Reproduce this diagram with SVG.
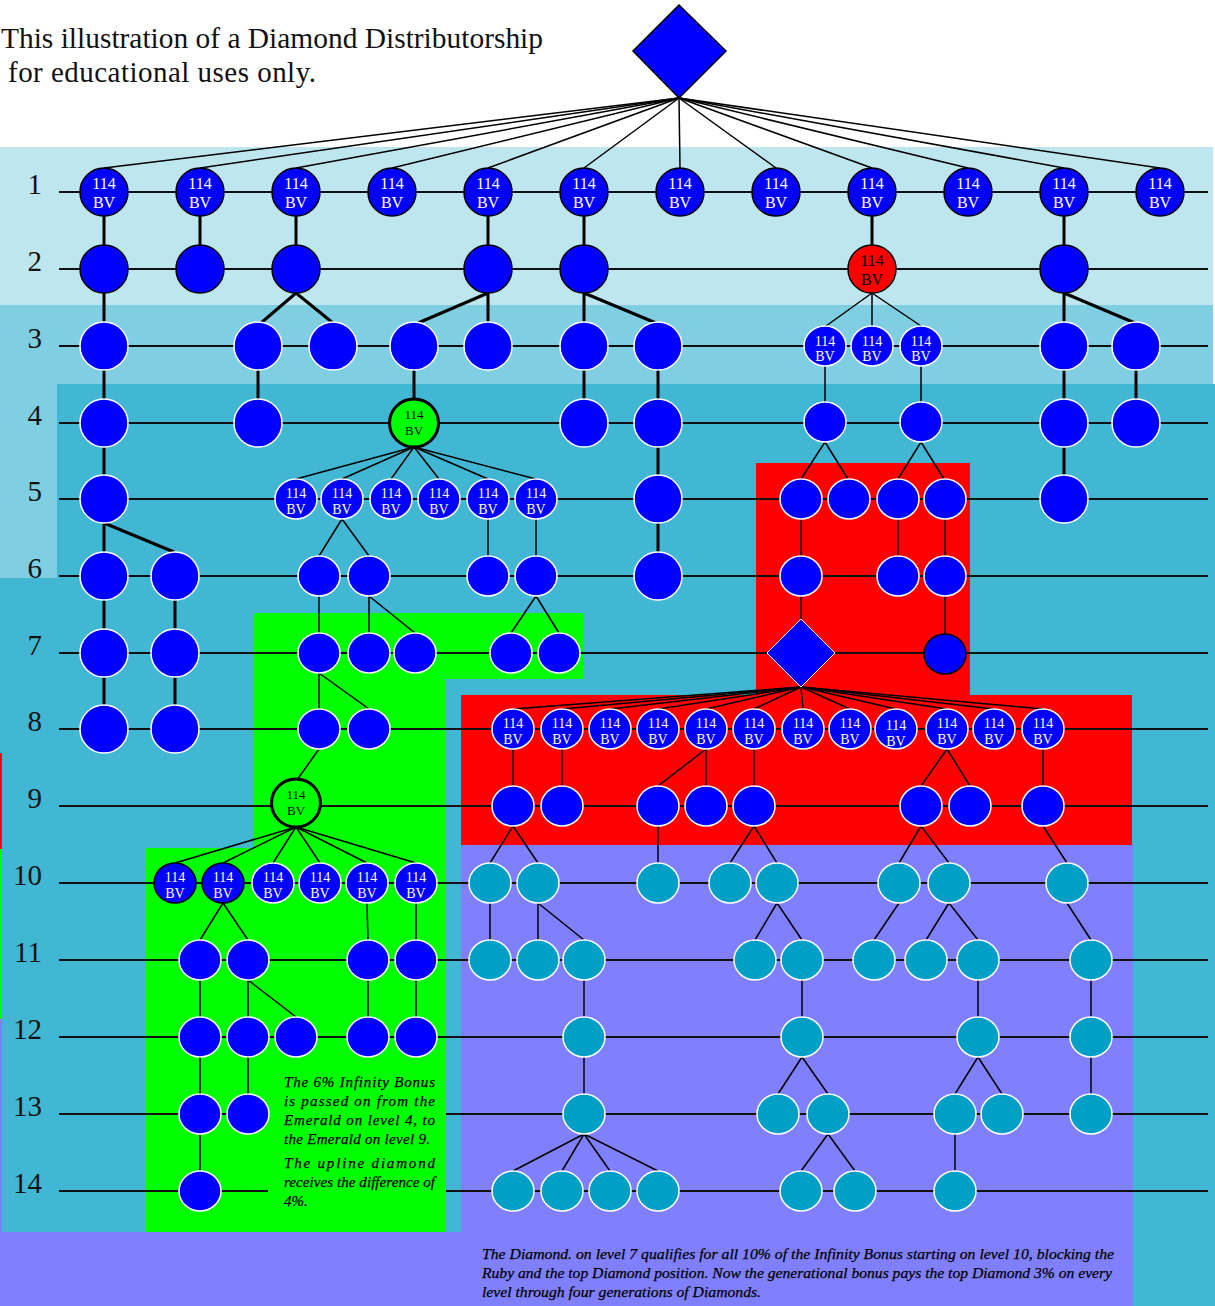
<svg xmlns="http://www.w3.org/2000/svg" width="1215" height="1306" viewBox="0 0 1215 1306">
<style>
.row{stroke:#111;stroke-width:2;fill:none}
.tk{stroke:#000;stroke-width:3;fill:none}
.tn{stroke:#000;stroke-width:1.5;fill:none}
.b{fill:#0000ff;stroke:#fff;stroke-width:1.5}
.bk{fill:#0000ff;stroke:#000;stroke-width:1.5}
.t{fill:#00a0c6;stroke:#fff;stroke-width:1.5}
.em{fill:#00ff00;stroke:#000;stroke-width:3}
.rd{fill:#ff0000;stroke:#000;stroke-width:1.5}
.lbl{font-family:"Liberation Serif",serif;font-size:29px;fill:#111;text-anchor:end}
.bv{font-family:"Liberation Serif",serif;text-anchor:middle;fill:#fff}
.s16{font-size:16px}
.s14{font-size:14px}
.s13{font-size:13px}
.dk{fill:#000}
.note{font-family:"Liberation Serif",serif;font-style:italic;font-size:15px;fill:#000;stroke:#000;stroke-width:0.25}
.title{font-family:"Liberation Serif",serif;font-size:29px;fill:#111}
</style>
<g id="background">
<rect x="0" y="0" width="1215" height="1306" fill="#ffffff"/>
<rect x="0" y="384" width="1215" height="922" fill="#41b7d4"/>
<rect x="0" y="753" width="2" height="96" fill="#ff0000"/>
<rect x="0" y="849" width="2" height="170" fill="#00ff00"/>
<rect x="0" y="1019" width="2" height="213" fill="#8080ff"/>
<rect x="0" y="1232" width="1133" height="74" fill="#8080ff"/>
<rect x="461" y="845" width="672" height="387" fill="#8080ff"/>
<rect x="0" y="147" width="1213" height="158" fill="#bee6ee"/>
<rect x="0" y="305" width="1213" height="79" fill="#80cee1"/>
<rect x="0" y="384" width="57" height="194" fill="#80cee1"/>
<polygon fill="#00ff00" points="254,613 584,613 584,679 445,679 445,1232 146,1232 146,848 254,848"/>
<polygon fill="#ff0000" points="756,463 970,463 970,695 1132,695 1132,845 461,845 461,695 756,695"/>
</g>
<g id="title">
<text class="title" x="1" y="48" textLength="542" lengthAdjust="spacingAndGlyphs">This illustration of a Diamond Distributorship</text>
<text class="title" x="8" y="82" textLength="308" lengthAdjust="spacing">for educational uses only.</text>
</g>
<g id="level-labels">
<text class="lbl" x="42" y="194">1</text>
<text class="lbl" x="42" y="271">2</text>
<text class="lbl" x="42" y="348">3</text>
<text class="lbl" x="42" y="425">4</text>
<text class="lbl" x="42" y="501">5</text>
<text class="lbl" x="42" y="578">6</text>
<text class="lbl" x="42" y="655">7</text>
<text class="lbl" x="42" y="731">8</text>
<text class="lbl" x="42" y="808">9</text>
<text class="lbl" x="42" y="885">10</text>
<text class="lbl" x="42" y="962">11</text>
<text class="lbl" x="42" y="1039">12</text>
<text class="lbl" x="42" y="1116">13</text>
<text class="lbl" x="42" y="1193">14</text>
</g>
<g id="level-lines">
<line class="row" x1="59" y1="192" x2="1208" y2="192"/>
<line class="row" x1="59" y1="269" x2="1208" y2="269"/>
<line class="row" x1="59" y1="346" x2="1208" y2="346"/>
<line class="row" x1="59" y1="423" x2="1208" y2="423"/>
<line class="row" x1="59" y1="499" x2="1208" y2="499"/>
<line class="row" x1="59" y1="576" x2="1208" y2="576"/>
<line class="row" x1="59" y1="653" x2="1208" y2="653"/>
<line class="row" x1="59" y1="729" x2="1208" y2="729"/>
<line class="row" x1="59" y1="806" x2="1208" y2="806"/>
<line class="row" x1="59" y1="883" x2="1208" y2="883"/>
<line class="row" x1="59" y1="960" x2="1208" y2="960"/>
<line class="row" x1="59" y1="1037" x2="1208" y2="1037"/>
<line class="row" x1="59" y1="1114" x2="248" y2="1114"/>
<line class="row" x1="446" y1="1114" x2="1208" y2="1114"/>
<line class="row" x1="59" y1="1191" x2="268" y2="1191"/>
<line class="row" x1="446" y1="1191" x2="1208" y2="1191"/>
</g>
<g id="connectors">
<g class="tn">
<line x1="679" y1="98" x2="104" y2="168"/><line x1="679" y1="98" x2="200" y2="168"/><line x1="679" y1="98" x2="296" y2="168"/><line x1="679" y1="98" x2="392" y2="168"/><line x1="679" y1="98" x2="488" y2="168"/><line x1="679" y1="98" x2="584" y2="168"/><line x1="679" y1="98" x2="680" y2="168"/><line x1="679" y1="98" x2="776" y2="168"/><line x1="679" y1="98" x2="872" y2="168"/><line x1="679" y1="98" x2="968" y2="168"/><line x1="679" y1="98" x2="1064" y2="168"/><line x1="679" y1="98" x2="1160" y2="168"/>
</g>
<g class="tk">
<line x1="104" y1="216" x2="104" y2="245"/><line x1="200" y1="216" x2="200" y2="245"/><line x1="296" y1="216" x2="296" y2="245"/><line x1="488" y1="216" x2="488" y2="245"/><line x1="584" y1="216" x2="584" y2="245"/><line x1="872" y1="216" x2="872" y2="245"/><line x1="1064" y1="216" x2="1064" y2="245"/>
<line x1="104" y1="293" x2="104" y2="322"/><line x1="296" y1="293" x2="261" y2="323"/><line x1="296" y1="293" x2="333" y2="323"/><line x1="488" y1="293" x2="418" y2="323"/><line x1="488" y1="293" x2="488" y2="322"/><line x1="584" y1="293" x2="584" y2="322"/><line x1="584" y1="293" x2="656" y2="323"/><line x1="1064" y1="293" x2="1064" y2="322"/><line x1="1064" y1="293" x2="1135" y2="323"/>
<line x1="104" y1="370" x2="104" y2="399"/><line x1="258" y1="370" x2="258" y2="399"/><line x1="414" y1="370" x2="414" y2="399"/><line x1="584" y1="370" x2="584" y2="399"/><line x1="658" y1="370" x2="658" y2="399"/><line x1="1064" y1="370" x2="1064" y2="399"/><line x1="1136" y1="370" x2="1136" y2="399"/>
<line x1="104" y1="447" x2="104" y2="475"/><line x1="658" y1="447" x2="658" y2="475"/><line x1="1064" y1="447" x2="1064" y2="475"/>
<line x1="104" y1="523" x2="104" y2="552"/><line x1="104" y1="523" x2="174" y2="552"/><line x1="658" y1="523" x2="658" y2="552"/>
<line x1="104" y1="600" x2="104" y2="629"/><line x1="175" y1="600" x2="175" y2="629"/>
<line x1="104" y1="677" x2="104" y2="705"/><line x1="175" y1="677" x2="175" y2="705"/>
</g>
<g class="tn">
<line x1="872" y1="293" x2="826" y2="326"/><line x1="872" y1="293" x2="872" y2="326"/><line x1="872" y1="293" x2="921" y2="326"/>
<line x1="825" y1="366" x2="825" y2="402"/><line x1="921" y1="366" x2="921" y2="402"/>
<line x1="414" y1="447" x2="296" y2="479"/><line x1="414" y1="447" x2="342" y2="479"/><line x1="414" y1="447" x2="391" y2="479"/><line x1="414" y1="447" x2="439" y2="479"/><line x1="414" y1="447" x2="488" y2="479"/><line x1="414" y1="447" x2="536" y2="479"/>
<line x1="825" y1="442" x2="801" y2="479"/><line x1="825" y1="442" x2="848" y2="479"/><line x1="921" y1="442" x2="898" y2="479"/><line x1="921" y1="442" x2="944" y2="479"/>
<line x1="342" y1="519" x2="319" y2="556"/><line x1="342" y1="519" x2="369" y2="556"/><line x1="488" y1="519" x2="488" y2="556"/><line x1="536" y1="519" x2="536" y2="556"/><line x1="801" y1="519" x2="801" y2="556"/><line x1="898" y1="519" x2="898" y2="556"/><line x1="945" y1="519" x2="945" y2="556"/>
<line x1="319" y1="596" x2="319" y2="633"/><line x1="369" y1="596" x2="369" y2="633"/><line x1="369" y1="596" x2="415" y2="633"/><line x1="536" y1="596" x2="511" y2="633"/><line x1="536" y1="596" x2="559" y2="633"/><line x1="801" y1="596" x2="801" y2="619"/><line x1="945" y1="596" x2="945" y2="634"/>
<line x1="319" y1="673" x2="319" y2="709"/><line x1="319" y1="673" x2="369" y2="709"/>
<line x1="801" y1="687" x2="513" y2="709"/><line x1="801" y1="687" x2="562" y2="709"/><line x1="801" y1="687" x2="610" y2="709"/><line x1="801" y1="687" x2="658" y2="709"/><line x1="801" y1="687" x2="706" y2="709"/><line x1="801" y1="687" x2="754" y2="709"/><line x1="801" y1="687" x2="803" y2="709"/><line x1="801" y1="687" x2="850" y2="709"/><line x1="801" y1="687" x2="896" y2="709"/><line x1="801" y1="687" x2="947" y2="709"/><line x1="801" y1="687" x2="994" y2="709"/><line x1="801" y1="687" x2="1043" y2="709"/>
<line x1="319" y1="749" x2="297" y2="780"/><line x1="513" y1="749" x2="513" y2="786"/><line x1="562" y1="749" x2="562" y2="786"/><line x1="706" y1="749" x2="658" y2="786"/><line x1="706" y1="749" x2="706" y2="786"/><line x1="754" y1="749" x2="754" y2="786"/><line x1="947" y1="749" x2="921" y2="786"/><line x1="947" y1="749" x2="970" y2="786"/><line x1="1043" y1="749" x2="1043" y2="786"/>
<line x1="296" y1="827" x2="175" y2="863"/><line x1="296" y1="827" x2="223" y2="863"/><line x1="296" y1="827" x2="273" y2="863"/><line x1="296" y1="827" x2="320" y2="863"/><line x1="296" y1="827" x2="367" y2="863"/><line x1="296" y1="827" x2="416" y2="863"/>
<line x1="513" y1="826" x2="490" y2="863"/><line x1="513" y1="826" x2="538" y2="863"/><line x1="658" y1="826" x2="658" y2="863"/><line x1="754" y1="826" x2="730" y2="863"/><line x1="754" y1="826" x2="777" y2="863"/><line x1="921" y1="826" x2="899" y2="863"/><line x1="921" y1="826" x2="949" y2="863"/><line x1="1043" y1="826" x2="1067" y2="863"/>
<line x1="223" y1="903" x2="200" y2="940"/><line x1="223" y1="903" x2="248" y2="940"/><line x1="367" y1="903" x2="368" y2="940"/><line x1="416" y1="903" x2="416" y2="940"/>
<line x1="490" y1="903" x2="490" y2="940"/><line x1="538" y1="903" x2="538" y2="940"/><line x1="538" y1="903" x2="584" y2="940"/><line x1="777" y1="903" x2="755" y2="940"/><line x1="777" y1="903" x2="802" y2="940"/><line x1="899" y1="903" x2="874" y2="940"/><line x1="949" y1="903" x2="926" y2="940"/><line x1="949" y1="903" x2="978" y2="940"/><line x1="1067" y1="903" x2="1091" y2="940"/>
<line x1="200" y1="980" x2="200" y2="1017"/><line x1="248" y1="980" x2="248" y2="1017"/><line x1="248" y1="980" x2="296" y2="1017"/><line x1="368" y1="980" x2="368" y2="1017"/><line x1="416" y1="980" x2="416" y2="1017"/>
<line x1="584" y1="980" x2="584" y2="1017"/><line x1="802" y1="980" x2="802" y2="1017"/><line x1="978" y1="980" x2="978" y2="1017"/><line x1="1091" y1="980" x2="1091" y2="1017"/>
<line x1="200" y1="1057" x2="200" y2="1094"/><line x1="248" y1="1057" x2="248" y2="1094"/>
<line x1="584" y1="1057" x2="584" y2="1094"/><line x1="802" y1="1057" x2="778" y2="1094"/><line x1="802" y1="1057" x2="828" y2="1094"/><line x1="978" y1="1057" x2="955" y2="1094"/><line x1="978" y1="1057" x2="1002" y2="1094"/><line x1="1091" y1="1057" x2="1091" y2="1094"/>
<line x1="200" y1="1134" x2="200" y2="1171"/><line x1="584" y1="1134" x2="513" y2="1171"/><line x1="584" y1="1134" x2="562" y2="1171"/><line x1="584" y1="1134" x2="610" y2="1171"/><line x1="584" y1="1134" x2="658" y2="1171"/><line x1="828" y1="1134" x2="801" y2="1171"/><line x1="828" y1="1134" x2="855" y2="1171"/><line x1="955" y1="1134" x2="955" y2="1171"/>
</g>
</g>
<g id="top-diamond"><polygon points="679,5 726,51 679,98 633,51" fill="#0000ff" stroke="#000" stroke-width="1.5"/></g>
<g id="level1">
<g id="n1-104"><ellipse class="bk" cx="104" cy="192" rx="24" ry="24"/><text class="bv s16" x="104" y="189">114</text><text class="bv s16" x="104" y="208">BV</text></g>
<g id="n1-200"><ellipse class="bk" cx="200" cy="192" rx="24" ry="24"/><text class="bv s16" x="200" y="189">114</text><text class="bv s16" x="200" y="208">BV</text></g>
<g id="n1-296"><ellipse class="bk" cx="296" cy="192" rx="24" ry="24"/><text class="bv s16" x="296" y="189">114</text><text class="bv s16" x="296" y="208">BV</text></g>
<g id="n1-392"><ellipse class="bk" cx="392" cy="192" rx="24" ry="24"/><text class="bv s16" x="392" y="189">114</text><text class="bv s16" x="392" y="208">BV</text></g>
<g id="n1-488"><ellipse class="bk" cx="488" cy="192" rx="24" ry="24"/><text class="bv s16" x="488" y="189">114</text><text class="bv s16" x="488" y="208">BV</text></g>
<g id="n1-584"><ellipse class="bk" cx="584" cy="192" rx="24" ry="24"/><text class="bv s16" x="584" y="189">114</text><text class="bv s16" x="584" y="208">BV</text></g>
<g id="n1-680"><ellipse class="bk" cx="680" cy="192" rx="24" ry="24"/><text class="bv s16" x="680" y="189">114</text><text class="bv s16" x="680" y="208">BV</text></g>
<g id="n1-776"><ellipse class="bk" cx="776" cy="192" rx="24" ry="24"/><text class="bv s16" x="776" y="189">114</text><text class="bv s16" x="776" y="208">BV</text></g>
<g id="n1-872"><ellipse class="bk" cx="872" cy="192" rx="24" ry="24"/><text class="bv s16" x="872" y="189">114</text><text class="bv s16" x="872" y="208">BV</text></g>
<g id="n1-968"><ellipse class="bk" cx="968" cy="192" rx="24" ry="24"/><text class="bv s16" x="968" y="189">114</text><text class="bv s16" x="968" y="208">BV</text></g>
<g id="n1-1064"><ellipse class="bk" cx="1064" cy="192" rx="24" ry="24"/><text class="bv s16" x="1064" y="189">114</text><text class="bv s16" x="1064" y="208">BV</text></g>
<g id="n1-1160"><ellipse class="bk" cx="1160" cy="192" rx="24" ry="24"/><text class="bv s16" x="1160" y="189">114</text><text class="bv s16" x="1160" y="208">BV</text></g>
</g>
<g id="level2">
<g id="n2-104"><ellipse class="bk" cx="104" cy="269" rx="24" ry="24"/></g>
<g id="n2-200"><ellipse class="bk" cx="200" cy="269" rx="24" ry="24"/></g>
<g id="n2-296"><ellipse class="bk" cx="296" cy="269" rx="24" ry="24"/></g>
<g id="n2-488"><ellipse class="bk" cx="488" cy="269" rx="24" ry="24"/></g>
<g id="n2-584"><ellipse class="bk" cx="584" cy="269" rx="24" ry="24"/></g>
<g id="n2-872"><ellipse class="rd" cx="872" cy="269" rx="24" ry="24"/><text class="bv s16 dk" x="872" y="266">114</text><text class="bv s16 dk" x="872" y="285">BV</text></g>
<g id="n2-1064"><ellipse class="bk" cx="1064" cy="269" rx="24" ry="24"/></g>
</g>
<g id="level3">
<g id="n3-104"><ellipse class="b" cx="104" cy="346" rx="24" ry="24"/></g>
<g id="n3-258"><ellipse class="b" cx="258" cy="346" rx="24" ry="24"/></g>
<g id="n3-333"><ellipse class="b" cx="333" cy="346" rx="24" ry="24"/></g>
<g id="n3-414"><ellipse class="b" cx="414" cy="346" rx="24" ry="24"/></g>
<g id="n3-488"><ellipse class="b" cx="488" cy="346" rx="24" ry="24"/></g>
<g id="n3-584"><ellipse class="b" cx="584" cy="346" rx="24" ry="24"/></g>
<g id="n3-658"><ellipse class="b" cx="658" cy="346" rx="24" ry="24"/></g>
<g id="n3-825"><ellipse class="b" cx="825" cy="346" rx="21" ry="20"/><text class="bv s14" x="825" y="346">114</text><text class="bv s14" x="825" y="361">BV</text></g>
<g id="n3-872"><ellipse class="b" cx="872" cy="346" rx="21" ry="20"/><text class="bv s14" x="872" y="346">114</text><text class="bv s14" x="872" y="361">BV</text></g>
<g id="n3-921"><ellipse class="b" cx="921" cy="346" rx="21" ry="20"/><text class="bv s14" x="921" y="346">114</text><text class="bv s14" x="921" y="361">BV</text></g>
<g id="n3-1064"><ellipse class="b" cx="1064" cy="346" rx="24" ry="24"/></g>
<g id="n3-1136"><ellipse class="b" cx="1136" cy="346" rx="24" ry="24"/></g>
</g>
<g id="level4">
<g id="n4-104"><ellipse class="b" cx="104" cy="423" rx="24" ry="24"/></g>
<g id="n4-258"><ellipse class="b" cx="258" cy="423" rx="24" ry="24"/></g>
<g id="n4-414"><ellipse class="em" cx="414" cy="423" rx="24.5" ry="24"/><text class="bv s13 dk" x="414" y="419">114</text><text class="bv s13 dk" x="414" y="435">BV</text></g>
<g id="n4-584"><ellipse class="b" cx="584" cy="423" rx="24" ry="24"/></g>
<g id="n4-658"><ellipse class="b" cx="658" cy="423" rx="24" ry="24"/></g>
<g id="n4-825"><ellipse class="b" cx="825" cy="422" rx="21" ry="20"/></g>
<g id="n4-921"><ellipse class="b" cx="921" cy="422" rx="21" ry="20"/></g>
<g id="n4-1064"><ellipse class="b" cx="1064" cy="423" rx="24" ry="24"/></g>
<g id="n4-1136"><ellipse class="b" cx="1136" cy="423" rx="24" ry="24"/></g>
</g>
<g id="level5">
<g id="n5-104"><ellipse class="b" cx="104" cy="499" rx="24" ry="24"/></g>
<g id="n5-296"><ellipse class="b" cx="296" cy="499" rx="21" ry="20"/><text class="bv s14" x="296" y="498">114</text><text class="bv s14" x="296" y="514">BV</text></g>
<g id="n5-342"><ellipse class="b" cx="342" cy="499" rx="21" ry="20"/><text class="bv s14" x="342" y="498">114</text><text class="bv s14" x="342" y="514">BV</text></g>
<g id="n5-391"><ellipse class="b" cx="391" cy="499" rx="21" ry="20"/><text class="bv s14" x="391" y="498">114</text><text class="bv s14" x="391" y="514">BV</text></g>
<g id="n5-439"><ellipse class="b" cx="439" cy="499" rx="21" ry="20"/><text class="bv s14" x="439" y="498">114</text><text class="bv s14" x="439" y="514">BV</text></g>
<g id="n5-488"><ellipse class="b" cx="488" cy="499" rx="21" ry="20"/><text class="bv s14" x="488" y="498">114</text><text class="bv s14" x="488" y="514">BV</text></g>
<g id="n5-536"><ellipse class="b" cx="536" cy="499" rx="21" ry="20"/><text class="bv s14" x="536" y="498">114</text><text class="bv s14" x="536" y="514">BV</text></g>
<g id="n5-658"><ellipse class="b" cx="658" cy="499" rx="24" ry="24"/></g>
<g id="n5-801"><ellipse class="b" cx="801" cy="499" rx="21" ry="20"/></g>
<g id="n5-849"><ellipse class="b" cx="849" cy="499" rx="21" ry="20"/></g>
<g id="n5-898"><ellipse class="b" cx="898" cy="499" rx="21" ry="20"/></g>
<g id="n5-945"><ellipse class="b" cx="945" cy="499" rx="21" ry="20"/></g>
<g id="n5-1064"><ellipse class="b" cx="1064" cy="499" rx="24" ry="24"/></g>
</g>
<g id="level6">
<g id="n6-104"><ellipse class="b" cx="104" cy="576" rx="24" ry="24"/></g>
<g id="n6-175"><ellipse class="b" cx="175" cy="576" rx="24" ry="24"/></g>
<g id="n6-319"><ellipse class="b" cx="319" cy="576" rx="21" ry="20"/></g>
<g id="n6-369"><ellipse class="b" cx="369" cy="576" rx="21" ry="20"/></g>
<g id="n6-488"><ellipse class="b" cx="488" cy="576" rx="21" ry="20"/></g>
<g id="n6-536"><ellipse class="b" cx="536" cy="576" rx="21" ry="20"/></g>
<g id="n6-658"><ellipse class="b" cx="658" cy="576" rx="24" ry="24"/></g>
<g id="n6-801"><ellipse class="b" cx="801" cy="576" rx="21" ry="20"/></g>
<g id="n6-898"><ellipse class="b" cx="898" cy="576" rx="21" ry="20"/></g>
<g id="n6-945"><ellipse class="b" cx="945" cy="576" rx="21" ry="20"/></g>
</g>
<g id="level7">
<g id="n7-104"><ellipse class="b" cx="104" cy="653" rx="24" ry="24"/></g>
<g id="n7-175"><ellipse class="b" cx="175" cy="653" rx="24" ry="24"/></g>
<g id="n7-319"><ellipse class="b" cx="319" cy="653" rx="21" ry="20"/></g>
<g id="n7-369"><ellipse class="b" cx="369" cy="653" rx="21" ry="20"/></g>
<g id="n7-415"><ellipse class="b" cx="415" cy="653" rx="21" ry="20"/></g>
<g id="n7-511"><ellipse class="b" cx="511" cy="653" rx="21" ry="20"/></g>
<g id="n7-559"><ellipse class="b" cx="559" cy="653" rx="21" ry="20"/></g>
<g id="n7-diamond"><polygon points="801,619 835,653 801,687 767,653" fill="#0000ff" stroke="#fff" stroke-width="1"/></g>
<g id="n7-945"><ellipse class="bk" cx="945" cy="654" rx="21" ry="20"/></g>
</g>
<g id="level8">
<g id="n8-104"><ellipse class="b" cx="104" cy="729" rx="24" ry="24"/></g>
<g id="n8-175"><ellipse class="b" cx="175" cy="729" rx="24" ry="24"/></g>
<g id="n8-319"><ellipse class="b" cx="319" cy="729" rx="21" ry="20"/></g>
<g id="n8-369"><ellipse class="b" cx="369" cy="729" rx="21" ry="20"/></g>
<g id="n8-513"><ellipse class="b" cx="513" cy="729" rx="21" ry="20"/><text class="bv s14" x="513" y="728">114</text><text class="bv s14" x="513" y="744">BV</text></g>
<g id="n8-562"><ellipse class="b" cx="562" cy="729" rx="21" ry="20"/><text class="bv s14" x="562" y="728">114</text><text class="bv s14" x="562" y="744">BV</text></g>
<g id="n8-610"><ellipse class="b" cx="610" cy="729" rx="21" ry="20"/><text class="bv s14" x="610" y="728">114</text><text class="bv s14" x="610" y="744">BV</text></g>
<g id="n8-658"><ellipse class="b" cx="658" cy="729" rx="21" ry="20"/><text class="bv s14" x="658" y="728">114</text><text class="bv s14" x="658" y="744">BV</text></g>
<g id="n8-706"><ellipse class="b" cx="706" cy="729" rx="21" ry="20"/><text class="bv s14" x="706" y="728">114</text><text class="bv s14" x="706" y="744">BV</text></g>
<g id="n8-754"><ellipse class="b" cx="754" cy="729" rx="21" ry="20"/><text class="bv s14" x="754" y="728">114</text><text class="bv s14" x="754" y="744">BV</text></g>
<g id="n8-803"><ellipse class="b" cx="803" cy="729" rx="21" ry="20"/><text class="bv s14" x="803" y="728">114</text><text class="bv s14" x="803" y="744">BV</text></g>
<g id="n8-850"><ellipse class="b" cx="850" cy="729" rx="21" ry="20"/><text class="bv s14" x="850" y="728">114</text><text class="bv s14" x="850" y="744">BV</text></g>
<g id="n8-896"><ellipse class="b" cx="896" cy="729" rx="21" ry="20"/><text class="bv s14" x="896" y="730">114</text><text class="bv s14" x="896" y="746">BV</text></g>
<g id="n8-947"><ellipse class="b" cx="947" cy="729" rx="21" ry="20"/><text class="bv s14" x="947" y="728">114</text><text class="bv s14" x="947" y="744">BV</text></g>
<g id="n8-994"><ellipse class="b" cx="994" cy="729" rx="21" ry="20"/><text class="bv s14" x="994" y="728">114</text><text class="bv s14" x="994" y="744">BV</text></g>
<g id="n8-1043"><ellipse class="b" cx="1043" cy="729" rx="21" ry="20"/><text class="bv s14" x="1043" y="728">114</text><text class="bv s14" x="1043" y="744">BV</text></g>
</g>
<g id="level9">
<g id="n9-296"><ellipse class="em" cx="296" cy="803" rx="24.5" ry="24"/><text class="bv s13 dk" x="296" y="799">114</text><text class="bv s13 dk" x="296" y="815">BV</text></g>
<g id="n9-513"><ellipse class="b" cx="513" cy="806" rx="21" ry="20"/></g>
<g id="n9-562"><ellipse class="b" cx="562" cy="806" rx="21" ry="20"/></g>
<g id="n9-658"><ellipse class="b" cx="658" cy="806" rx="21" ry="20"/></g>
<g id="n9-706"><ellipse class="b" cx="706" cy="806" rx="21" ry="20"/></g>
<g id="n9-754"><ellipse class="b" cx="754" cy="806" rx="21" ry="20"/></g>
<g id="n9-921"><ellipse class="b" cx="921" cy="806" rx="21" ry="20"/></g>
<g id="n9-970"><ellipse class="b" cx="970" cy="806" rx="21" ry="20"/></g>
<g id="n9-1043"><ellipse class="b" cx="1043" cy="806" rx="21" ry="20"/></g>
</g>
<g id="level10">
<g id="n10-175"><ellipse class="bk" cx="175" cy="883" rx="21" ry="20"/><text class="bv s14" x="175" y="882">114</text><text class="bv s14" x="175" y="898">BV</text></g>
<g id="n10-223"><ellipse class="bk" cx="223" cy="883" rx="21" ry="20"/><text class="bv s14" x="223" y="882">114</text><text class="bv s14" x="223" y="898">BV</text></g>
<g id="n10-273"><ellipse class="b" cx="273" cy="883" rx="21" ry="20"/><text class="bv s14" x="273" y="882">114</text><text class="bv s14" x="273" y="898">BV</text></g>
<g id="n10-320"><ellipse class="b" cx="320" cy="883" rx="21" ry="20"/><text class="bv s14" x="320" y="882">114</text><text class="bv s14" x="320" y="898">BV</text></g>
<g id="n10-367"><ellipse class="b" cx="367" cy="883" rx="21" ry="20"/><text class="bv s14" x="367" y="882">114</text><text class="bv s14" x="367" y="898">BV</text></g>
<g id="n10-416"><ellipse class="b" cx="416" cy="883" rx="21" ry="20"/><text class="bv s14" x="416" y="882">114</text><text class="bv s14" x="416" y="898">BV</text></g>
<g id="n10-490"><ellipse class="t" cx="490" cy="883" rx="21" ry="20"/></g>
<g id="n10-538"><ellipse class="t" cx="538" cy="883" rx="21" ry="20"/></g>
<g id="n10-658"><ellipse class="t" cx="658" cy="883" rx="21" ry="20"/></g>
<g id="n10-730"><ellipse class="t" cx="730" cy="883" rx="21" ry="20"/></g>
<g id="n10-777"><ellipse class="t" cx="777" cy="883" rx="21" ry="20"/></g>
<g id="n10-899"><ellipse class="t" cx="899" cy="883" rx="21" ry="20"/></g>
<g id="n10-949"><ellipse class="t" cx="949" cy="883" rx="21" ry="20"/></g>
<g id="n10-1067"><ellipse class="t" cx="1067" cy="883" rx="21" ry="20"/></g>
</g>
<g id="level11">
<g id="n11-200"><ellipse class="b" cx="200" cy="960" rx="21" ry="20"/></g>
<g id="n11-248"><ellipse class="b" cx="248" cy="960" rx="21" ry="20"/></g>
<g id="n11-368"><ellipse class="b" cx="368" cy="960" rx="21" ry="20"/></g>
<g id="n11-416"><ellipse class="b" cx="416" cy="960" rx="21" ry="20"/></g>
<g id="n11-490"><ellipse class="t" cx="490" cy="960" rx="21" ry="20"/></g>
<g id="n11-538"><ellipse class="t" cx="538" cy="960" rx="21" ry="20"/></g>
<g id="n11-584"><ellipse class="t" cx="584" cy="960" rx="21" ry="20"/></g>
<g id="n11-755"><ellipse class="t" cx="755" cy="960" rx="21" ry="20"/></g>
<g id="n11-802"><ellipse class="t" cx="802" cy="960" rx="21" ry="20"/></g>
<g id="n11-874"><ellipse class="t" cx="874" cy="960" rx="21" ry="20"/></g>
<g id="n11-926"><ellipse class="t" cx="926" cy="960" rx="21" ry="20"/></g>
<g id="n11-978"><ellipse class="t" cx="978" cy="960" rx="21" ry="20"/></g>
<g id="n11-1091"><ellipse class="t" cx="1091" cy="960" rx="21" ry="20"/></g>
</g>
<g id="level12">
<g id="n12-200"><ellipse class="b" cx="200" cy="1037" rx="21" ry="20"/></g>
<g id="n12-248"><ellipse class="b" cx="248" cy="1037" rx="21" ry="20"/></g>
<g id="n12-296"><ellipse class="b" cx="296" cy="1037" rx="21" ry="20"/></g>
<g id="n12-368"><ellipse class="b" cx="368" cy="1037" rx="21" ry="20"/></g>
<g id="n12-416"><ellipse class="b" cx="416" cy="1037" rx="21" ry="20"/></g>
<g id="n12-584"><ellipse class="t" cx="584" cy="1037" rx="21" ry="20"/></g>
<g id="n12-802"><ellipse class="t" cx="802" cy="1037" rx="21" ry="20"/></g>
<g id="n12-978"><ellipse class="t" cx="978" cy="1037" rx="21" ry="20"/></g>
<g id="n12-1091"><ellipse class="t" cx="1091" cy="1037" rx="21" ry="20"/></g>
</g>
<g id="level13">
<g id="n13-200"><ellipse class="b" cx="200" cy="1114" rx="21" ry="20"/></g>
<g id="n13-248"><ellipse class="b" cx="248" cy="1114" rx="21" ry="20"/></g>
<g id="n13-584"><ellipse class="t" cx="584" cy="1114" rx="21" ry="20"/></g>
<g id="n13-778"><ellipse class="t" cx="778" cy="1114" rx="21" ry="20"/></g>
<g id="n13-828"><ellipse class="t" cx="828" cy="1114" rx="21" ry="20"/></g>
<g id="n13-955"><ellipse class="t" cx="955" cy="1114" rx="21" ry="20"/></g>
<g id="n13-1002"><ellipse class="t" cx="1002" cy="1114" rx="21" ry="20"/></g>
<g id="n13-1091"><ellipse class="t" cx="1091" cy="1114" rx="21" ry="20"/></g>
</g>
<g id="level14">
<g id="n14-200"><ellipse class="b" cx="200" cy="1191" rx="21" ry="20"/></g>
<g id="n14-513"><ellipse class="t" cx="513" cy="1191" rx="21" ry="20"/></g>
<g id="n14-562"><ellipse class="t" cx="562" cy="1191" rx="21" ry="20"/></g>
<g id="n14-610"><ellipse class="t" cx="610" cy="1191" rx="21" ry="20"/></g>
<g id="n14-658"><ellipse class="t" cx="658" cy="1191" rx="21" ry="20"/></g>
<g id="n14-801"><ellipse class="t" cx="801" cy="1191" rx="21" ry="20"/></g>
<g id="n14-855"><ellipse class="t" cx="855" cy="1191" rx="21" ry="20"/></g>
<g id="n14-955"><ellipse class="t" cx="955" cy="1191" rx="21" ry="20"/></g>
</g>
<g id="emerald-note">
<text class="note" x="284" y="1087" textLength="151" lengthAdjust="spacing">The 6% Infinity Bonus</text>
<text class="note" x="284" y="1106" textLength="151" lengthAdjust="spacing">is passed on from the</text>
<text class="note" x="284" y="1125" textLength="151" lengthAdjust="spacing">Emerald on level 4, to</text>
<text class="note" x="284" y="1144" textLength="146" lengthAdjust="spacing">the Emerald on level 9.</text>
<text class="note" x="284" y="1168" textLength="151" lengthAdjust="spacing">The upline diamond</text>
<text class="note" x="284" y="1187" textLength="151" lengthAdjust="spacing">receives the difference of</text>
<text class="note" x="284" y="1206">4%.</text>
</g>
<g id="diamond-note">
<text class="note" x="482" y="1259" textLength="632" lengthAdjust="spacingAndGlyphs">The Diamond. on level 7 qualifies for all 10% of the Infinity Bonus starting on level 10, blocking the</text>
<text class="note" x="482" y="1278" textLength="630" lengthAdjust="spacingAndGlyphs">Ruby and the top Diamond position. Now the generational bonus pays the top Diamond 3% on every</text>
<text class="note" x="482" y="1297" textLength="279" lengthAdjust="spacingAndGlyphs">level through four generations of Diamonds.</text>
</g>
</svg>
